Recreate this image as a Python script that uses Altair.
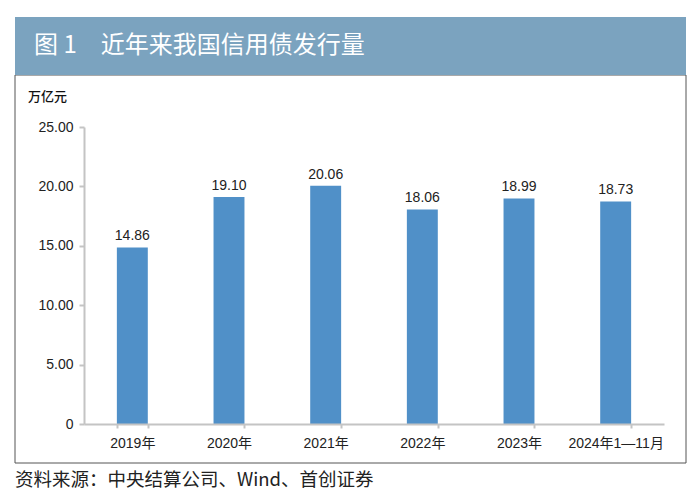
import altair as alt
import pandas as pd

categories = ["2019年", "2020年", "2021年", "2022年", "2023年", "2024年1—11月"]
values = [14.86, 19.10, 20.06, 18.06, 18.99, 18.73]
labels = ["14.86", "19.10", "20.06", "18.06", "18.99", "18.73"]
y_ticks = [0, 5, 10, 15, 20, 25]
title_text = "图 1　近年来我国信用债发行量"
unit_text = "万亿元"
source_text = "资料来源：中央结算公司、Wind、首创证券"

df = pd.DataFrame({"cat": categories, "val": values, "lab": labels})

FONT = "Liberation Sans, Noto Sans CJK SC, sans-serif"
CJK = "Noto Sans CJK SC, sans-serif"

W, H = 580, 297
LEFT, TOP = 76, 119

x_enc = alt.X("cat:N", sort=categories,
              scale=alt.Scale(paddingInner=0.68, paddingOuter=0.34),
              axis=alt.Axis(title=None, labelAngle=0, labelFont=FONT, labelFontSize=14,
                            labelColor="#222", labelPadding=8, domainColor="#c4c4c4",
                            domainWidth=2, tickColor="#c4c4c4", tickWidth=2, tickSize=4,
                            tickBand="extent", grid=False, zindex=2))
y_enc = alt.Y("val:Q", scale=alt.Scale(domain=[0, 25], nice=False),
              axis=alt.Axis(title=None, values=y_ticks, labelFont=FONT, labelFontSize=14,
                            labelColor="#222", labelPadding=6,
                            labelExpr="datum.value == 0 ? '0' : format(datum.value, '.2f')",
                            domainColor="#c4c4c4", domainWidth=2, tickColor="#c4c4c4",
                            tickWidth=2, tickSize=5, grid=False, zindex=2))

base = alt.Chart(df)
bars = base.mark_bar(color="#5090c8").encode(x=x_enc, y=y_enc)
texts = base.mark_text(dy=-11, font=FONT, fontSize=14, color="#222").encode(
    x=alt.X("cat:N", sort=categories), y="val:Q", text="lab:N")

one = pd.DataFrame({"k": [0]})
panel = alt.Chart(one).mark_rect(fill="white", stroke="#555", strokeWidth=1).encode(
    x=alt.value(-69), x2=alt.value(602), y=alt.value(-52), y2=alt.value(336))
banner = alt.Chart(one).mark_rect(fill="#7ba3bf").encode(
    x=alt.value(-69), x2=alt.value(602), y=alt.value(-110), y2=alt.value(-52))
title = alt.Chart(one).mark_text(align="left", baseline="middle", font=CJK, fontSize=24,
                                 color="white", fontWeight="normal").encode(
    x=alt.value(-50), y=alt.value(-81), text=alt.value(title_text))
unit = alt.Chart(one).mark_text(align="left", baseline="middle", font=CJK, fontSize=13,
                                color="#111", fontWeight=500).encode(
    x=alt.value(-56), y=alt.value(-30), text=alt.value(unit_text))
source = alt.Chart(one).mark_text(align="left", baseline="middle", font=CJK, fontSize=18.5,
                                  color="#222", fontWeight="normal").encode(
    x=alt.value(-69), y=alt.value(353), text=alt.value(source_text))

chart = alt.layer(panel, banner, title, unit, source, bars, texts).properties(
    width=W, height=H,
    padding={"left": LEFT, "top": TOP, "right": 684 - LEFT - W, "bottom": 496 - TOP - H},
    autosize=alt.AutoSizeParams(type="none"),
    background="white",
).configure_view(stroke=None)

chart.save("out.html", embed_options={"renderer": "svg", "actions": False})
